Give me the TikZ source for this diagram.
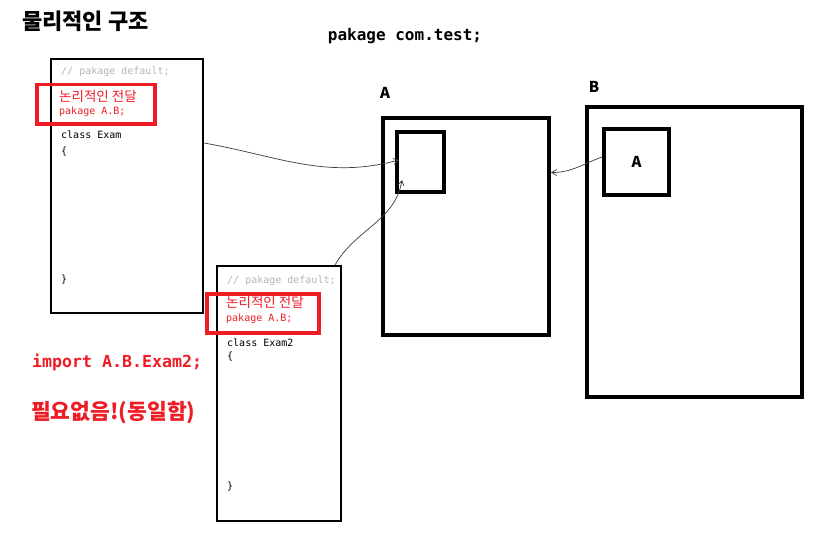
\documentclass[tikz,border=0pt]{standalone}
\usepackage{fontspec}
\setmainfont{Noto Sans CJK KR}
\setmonofont{DejaVu Sans Mono}
\usepackage{tikz}
\usetikzlibrary{arrows.meta,positioning}
\definecolor{ink}{HTML}{000000}
\definecolor{markred}{HTML}{EE1C25}
\definecolor{commentgray}{HTML}{B4B4B4}
\definecolor{wiregray}{HTML}{3A3A3A}
\tikzset{
  codebox/.style={rectangle, draw=ink, line width=2pt, anchor=north west, inner sep=0pt},
  markbox/.style={rectangle, draw=markred, line width=3.5pt, anchor=north west, inner sep=0pt},
  pkgbox/.style={rectangle, draw=ink, line width=4pt, anchor=north west, inner sep=0pt},
  codeline/.style={anchor=west, inner sep=0pt, font=\ttfamily\fontsize{10}{12}\selectfont, text=ink},
  comment/.style={codeline, text=commentgray},
  redline/.style={codeline, text=markred},
  redkor/.style={anchor=west, inner sep=0pt, font=\fontsize{13.5}{15}\selectfont, text=markred},
  boxlabel/.style={inner sep=0pt, font=\bfseries\fontsize{15}{17}\selectfont},
  note/.style={anchor=west, inner sep=0pt, text=markred, font=\bfseries\fontsize{16}{19}\selectfont},
  wire/.style={-{Straight Barb[length=5pt,width=6pt]}, draw=wiregray, line width=0.7pt}
}

\begin{document}
\begin{tikzpicture}[x=1pt, y=-1pt]
  \useasboundingbox (0,0) rectangle (814,535);

  % headings
  \node[font=\bfseries\fontsize{22}{25}\selectfont, inner sep=0pt, anchor=west] (title) at (22,21) {물리적인 구조};
  \node[font=\ttfamily\bfseries\fontsize{16}{19}\selectfont, inner sep=0pt] (pkg) at (405,36) {pakage com.test;};

  % first class
  \node[codebox, minimum width=152pt, minimum height=254pt] (code1) at (50,58) {};
  \node[markbox, minimum width=118pt, minimum height=39pt] (mark1) at (35,83) {};
  \node[comment] (cmt1) at (61,72) {// pakage default;};
  \node[redkor] (kor1) at (59,96) {논리적인 전달};
  \node[redline] (pa1) at (59,112) {pakage A.B;};
  \node[codeline] (cls1) at (61,135) {class Exam};
  \node[codeline] (open1) at (61,152) {\{};
  \node[codeline] (close1) at (61,280) {\}};

  % second class
  \node[codebox, minimum width=124pt, minimum height=255pt] (code2) at (216,265) {};
  \node[markbox, minimum width=112pt, minimum height=39pt] (mark2) at (205,292) {};
  \node[comment] (cmt2) at (227,281) {// pakage default;};
  \node[redkor] (kor2) at (226,302) {논리적인 전달};
  \node[redline] (pa2) at (226,319) {pakage A.B;};
  \node[codeline] (cls2) at (227,343) {class Exam2};
  \node[codeline] (open2) at (227,357) {\{};
  \node[codeline] (close2) at (227,487) {\}};

  \node[note, font=\ttfamily\bfseries\fontsize{16.6}{19}\selectfont] (imp) at (32,362) {import A.B.Exam2;};
  \node[note, font=\bfseries\fontsize{21.5}{24}\selectfont] (same) at (31,413) {필요없음!(동일함)};

  % packages
  \node[boxlabel] (labA) at (385,93) {A};
  \node[pkgbox, minimum width=166pt, minimum height=217pt] (boxA) at (381,116) {};
  \node[pkgbox, minimum width=47pt, minimum height=60pt] (innerA) at (395,130) {};
  \node[boxlabel] (labB) at (594,87) {B};
  \node[pkgbox, minimum width=215pt, minimum height=290pt] (boxB) at (585,105) {};
  \node[pkgbox, minimum width=65pt, minimum height=66pt] (innerB) at (602,127) {};
  \node[boxlabel] (labBA) at (innerB.center) {A};

  % links
  \draw[wire] ([yshift=43pt]code1.east) to[out=-10, in=195] ([xshift=4pt,yshift=2pt]innerA.west);
  \draw[wire] ([xshift=-7pt]code2.north east) to[out=60, in=-100] ([xshift=7pt,yshift=14pt]innerA.south west);
  \draw[wire] ([yshift=5pt]innerB.west) to[out=200, in=0] ([yshift=54pt]boxA.east);
\end{tikzpicture}
\end{document}
